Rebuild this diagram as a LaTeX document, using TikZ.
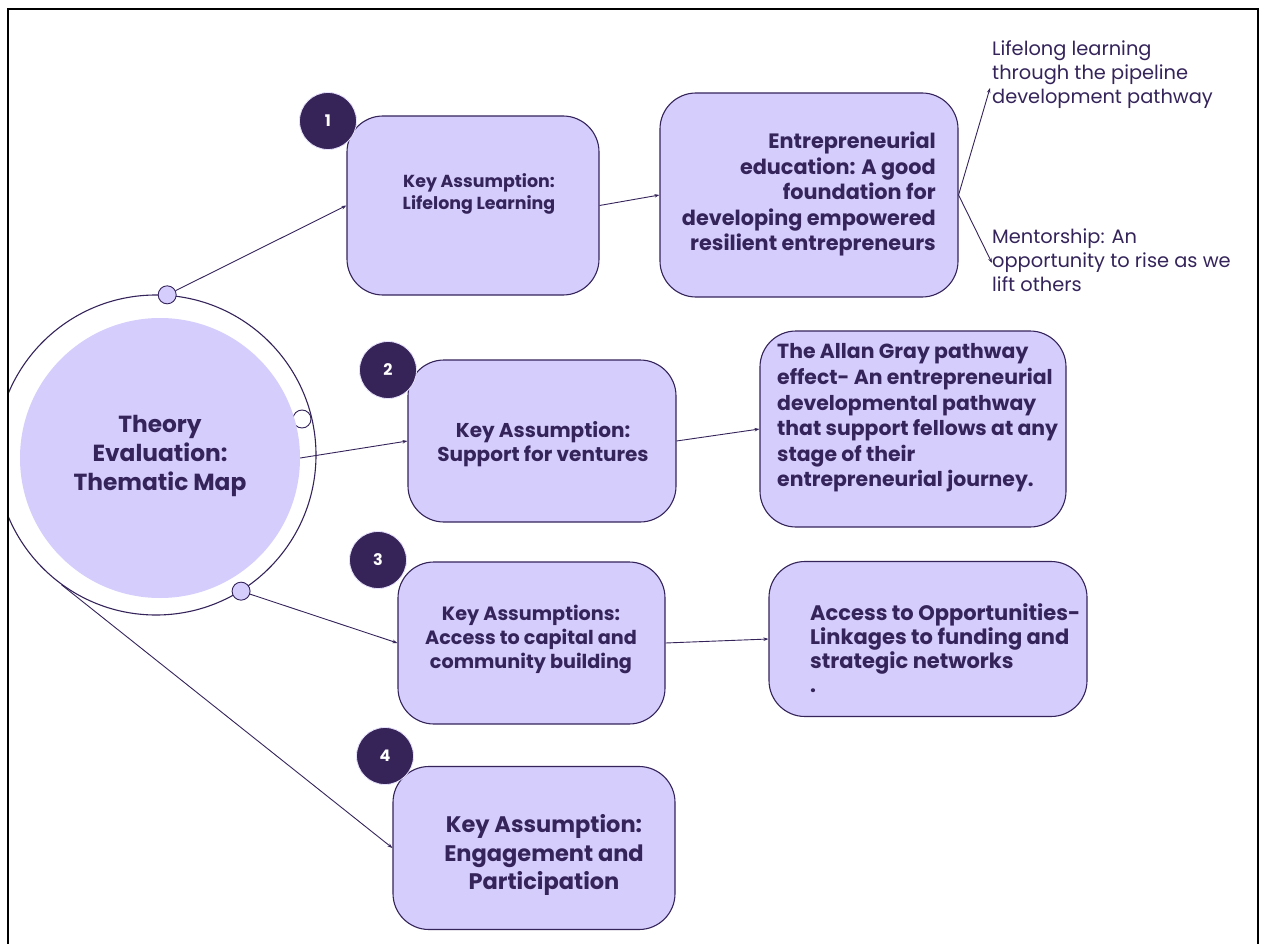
\documentclass[tikz,border=0pt]{standalone}
\usepackage{fontspec}
\setmainfont{Poppins}
\usetikzlibrary{arrows.meta}
\definecolor{lav}{RGB}{213,205,251}
\definecolor{ink}{RGB}{52,36,90}
\definecolor{badgefill}{RGB}{54,35,88}
\newcommand{\fs}[2]{\fontsize{#1}{#2}\selectfont}
\tikzset{
  box/.style={draw=ink, fill=lav, line width=1.1pt, rounded corners=36pt},
  badge/.style={circle, fill=badgefill, draw=lav!60!white, line width=0.8pt, minimum size=57pt, inner sep=0pt,
    text=white, font=\fs{16}{18}\bfseries},
  dot/.style={circle, draw=ink, fill=lav, line width=0.9pt, minimum size=18pt, inner sep=0pt},
  txt/.style={text=ink, inner sep=0pt},
  arr/.style={draw=ink, line width=0.9pt, -{Stealth[length=5pt,width=3.5pt]}},
}
\begin{document}
\begin{tikzpicture}[x=1pt,y=-1pt]
\useasboundingbox (0,0) rectangle (1266,944);
\begin{scope}
\clip (9,10) rectangle (1257,944);

% central hub
\node[circle, draw=ink, line width=1.1pt, minimum size=320pt, inner sep=0pt] (outer) at (156,455) {};
\node[dot, fill=white] (d2) at (302,419) {};
\node[circle, fill=lav, minimum size=280pt, inner sep=0pt] (inner) at (160,458) {};
\node[dot] (d1) at (outer.86) {};
\node[dot] (d3) at (outer.-58.6) {};
\node[txt, align=center, font=\fs{23.3}{29}\bfseries] (ct) at (160,456) {Theory\\Evaluation:\\Thematic Map};

% key assumption boxes
\node[box, minimum width=252pt, minimum height=179pt] (k1) at (473,205.5) {};
\node[box, minimum width=268pt, minimum height=162pt] (k2) at (542,441) {};
\node[box, minimum width=267pt, minimum height=162pt] (k3) at (531.5,643) {};
\node[box, minimum width=282pt, minimum height=163pt] (k4) at (534,848) {};

% outcome boxes
\node[box, minimum width=298pt, minimum height=204pt] (e1) at (809,195) {};
\node[box, minimum width=306pt, minimum height=196pt] (ag) at (913,429) {};
\node[box, minimum width=318pt, minimum height=155pt] (ac) at (928,639) {};

% numbered badges
\node[badge] (b1) at (328,121) {1};
\node[badge] (b2) at (388,370) {2};
\node[badge] (b3) at (378,560) {3};
\node[badge] (b4) at (385,756) {4};

% box texts
\node[txt, align=center, font=\fs{17.4}{22}\bfseries] (t1) at (479,194) {Key Assumption:\\Lifelong Learning};
\node[txt, align=right, font=\fs{20.8}{25.5}\bfseries, anchor=east] (te) at (936,194)
  {Entrepreneurial\\education: A good\\foundation for\\developing empowered\\resilient entrepreneurs};
\node[txt, align=center, font=\fs{20}{24}\bfseries] (t2) at (543,444) {Key Assumption:\\Support for ventures};
\node[txt, align=left, font=\fs{20.4}{25.6}\bfseries, anchor=west] (ta) at (777,418)
  {The Allan Gray pathway\\effect- An entrepreneurial\\developmental pathway\\that support fellows at any\\stage of their\\entrepreneurial journey.};
\node[txt, align=center, font=\fs{19.2}{24}\bfseries] (t3) at (531,639) {Key Assumptions:\\Access to capital and\\community building};
\node[txt, align=left, font=\fs{21}{24}\bfseries, anchor=west] (tc) at (810,648)
  {Access to Opportunities-\\Linkages to funding and\\strategic networks\\.};
\node[txt, align=center, font=\fs{22.5}{28.5}\bfseries] (t4) at (544,855) {Key Assumption:\\Engagement and\\Participation};

% side notes
\node[txt, align=left, font=\fs{19.4}{24}, anchor=west] (r1) at (992,75)
  {Lifelong learning\\through the pipeline\\development pathway};
\node[txt, align=left, font=\fs{19.4}{24}, anchor=west] (r2) at (992,260)
  {Mentorship: An\\opportunity to rise as we\\lift others};
\coordinate (r1in) at (990,88);
\coordinate (r2in) at (992,263);

% connectors
\draw[arr] (d1) -- (k1.west);
\draw[arr] (inner.east) -- (k2.west);
\draw[arr] (d3) -- (k3.west);
\draw[arr] (outer.234) -- (k4.west);
\draw[arr] (k1.east) -- (e1.west);
\draw[arr] (k2.east) -- (ag.west);
\draw[arr] (k3.east) -- (ac.west);
\draw[arr] (e1.east) -- (r1in);
\draw[arr] (e1.east) -- (r2in);
\end{scope}

% frame
\draw[line width=2.4pt] (8,944) -- (8,9) -- (1258,9) -- (1258,944);
\end{tikzpicture}
\end{document}
